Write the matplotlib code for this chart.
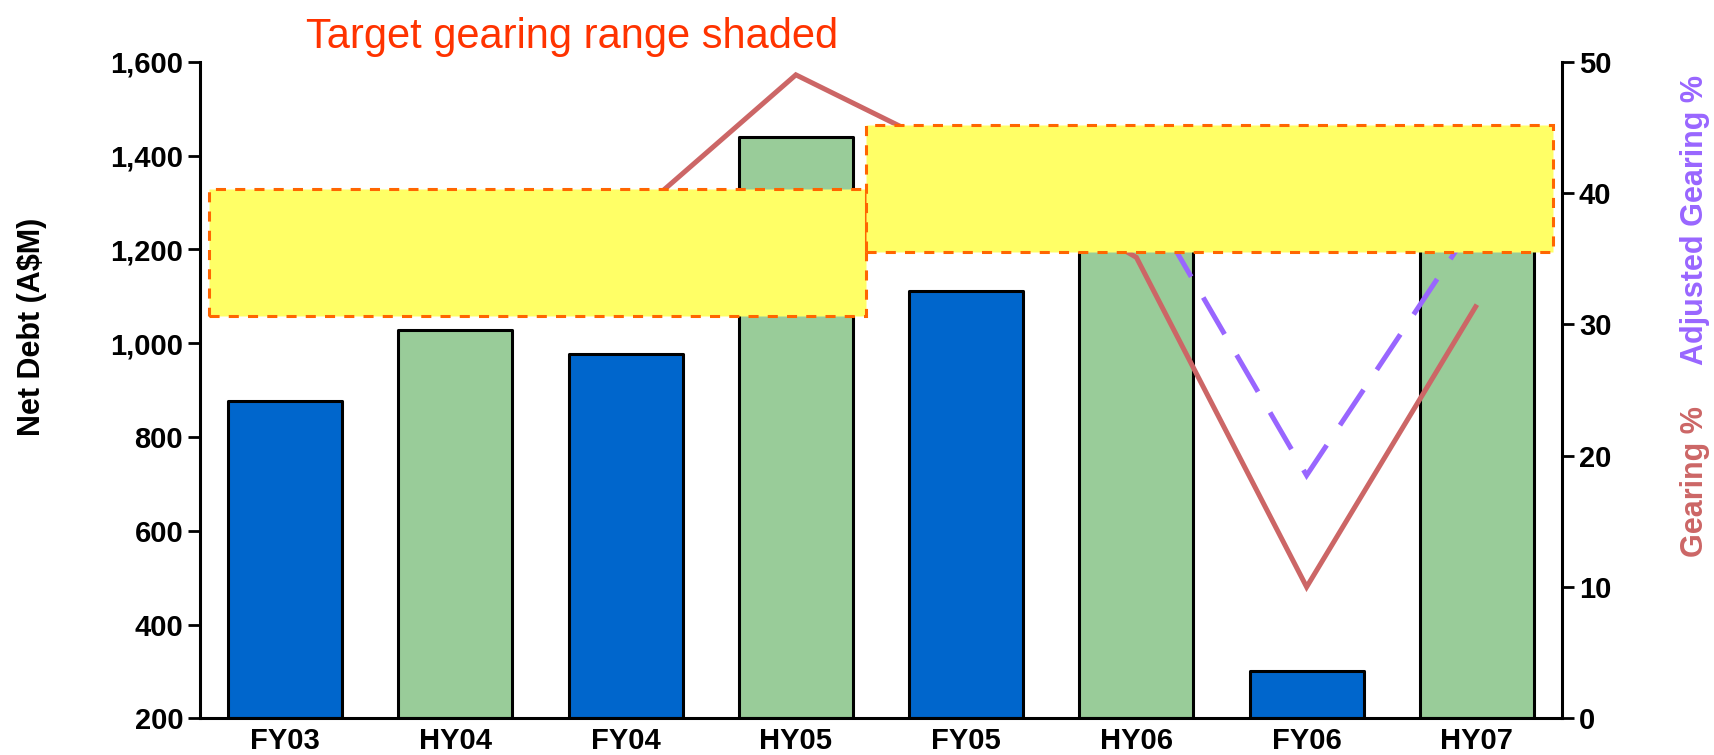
import numpy as np
import matplotlib
matplotlib.use("Agg")
import matplotlib.pyplot as plt
from matplotlib.patches import Rectangle

plt.rcParams['font.family'] = ['Liberation Sans', 'DejaVu Sans']

# Periods and values
periods = ["FY03", "HY04", "FY04", "HY05", "FY05", "HY06", "FY06", "HY07"]
net_debt = [877, 1027, 977, 1440, 1111, 1320, 301, 1280]
gearing = [35.0, 37.0, 37.7, 49.0, 42.6, 35.1, 10.0, 31.5]
adj_gearing = [np.nan, np.nan, np.nan, np.nan, np.nan, 40.8, 18.5, 38.0]

# Target gearing ranges (x extent in period units, y extent in gearing %)
target_low = [30.6, 35.5]
target_high = [40.3, 45.2]
target_start = [-0.45, 3.41]
target_end = [3.41, 7.45]

left_ticks = [200, 400, 600, 800, 1000, 1200, 1400, 1600]
right_ticks = [0, 10, 20, 30, 40, 50]

BLUE = "#0066CC"
GREEN = "#99CC99"
RED = "#CC6666"
PURPLE = "#9966FF"
YELLOW = "#FFFF66"
ORANGE = "#FF6600"
TITLE = "#FF3300"

fig = plt.figure(figsize=(17.15, 7.55), dpi=100)
ax = fig.add_axes([200 / 1715, 36.7 / 755, 1362 / 1715, 656.6 / 755])

x = np.arange(len(periods))
colors = [BLUE if p.startswith("FY") else GREEN for p in periods]
ax.bar(x, np.array(net_debt) - 200, bottom=200, width=0.67, color=colors,
       edgecolor="black", linewidth=2.2, zorder=2, joinstyle="round")

ax.set_xlim(-0.5, len(periods) - 0.5)
ax.set_ylim(200, 1600)
ax.set_yticks(left_ticks)
ax.set_yticklabels([f"{v:,}" for v in left_ticks])
ax.set_xticks(x)
ax.set_xticklabels(periods)

for s in ["top", "right"]:
    ax.spines[s].set_visible(False)
for s in ["left", "bottom"]:
    ax.spines[s].set_linewidth(2.2)
ax.tick_params(axis="y", length=8.6, width=2, pad=3.5, labelsize=21)
ax.tick_params(axis="x", length=0, pad=6.5, labelsize=21)
for lab in ax.get_xticklabels() + ax.get_yticklabels():
    lab.set_fontweight("bold")

ax2 = ax.twinx()
ax2.set_ylim(0, 50)
ax2.set_yticks(right_ticks)
for s in ["top", "left", "bottom"]:
    ax2.spines[s].set_visible(False)
ax2.spines["right"].set_linewidth(2.2)
ax2.tick_params(axis="y", length=8.6, width=2, pad=3.5, labelsize=21)
for lab in ax2.get_yticklabels():
    lab.set_fontweight("bold")

ax2.plot(x, gearing, color=RED, linewidth=3.6, zorder=3,
         solid_joinstyle="miter", solid_capstyle="butt")
ax2.plot(x, adj_gearing, color=PURPLE, linewidth=3.6, zorder=3,
         linestyle=(0, (8.5, 4.8)), dash_capstyle="butt", dash_joinstyle="miter")

for x0, x1, lo, hi in zip(target_start, target_end, target_low, target_high):
    ax2.add_patch(Rectangle((x0, lo), x1 - x0, hi - lo, facecolor=YELLOW,
                            edgecolor=ORANGE, linewidth=2.2,
                            linestyle=(0, (3.3, 3.0)), zorder=4))

fig.text(572 / 1715, 1 - 48 / 755, "Target gearing range shaded", color=TITLE,
         fontsize=30, ha="center", va="baseline")
fig.text(32 / 1715, 1 - 327 / 755, "Net Debt (A$M)", rotation=90,
         fontsize=22, fontweight="bold", ha="center", va="center")
fig.text(1695 / 1715, 1 - 220 / 755, "Adjusted Gearing %", rotation=90,
         color=PURPLE, fontsize=22, fontweight="bold", ha="center", va="center")
fig.text(1695 / 1715, 1 - 482 / 755, "Gearing %", rotation=90,
         color=RED, fontsize=22, fontweight="bold", ha="center", va="center")

fig.savefig("out.png", dpi=100)
